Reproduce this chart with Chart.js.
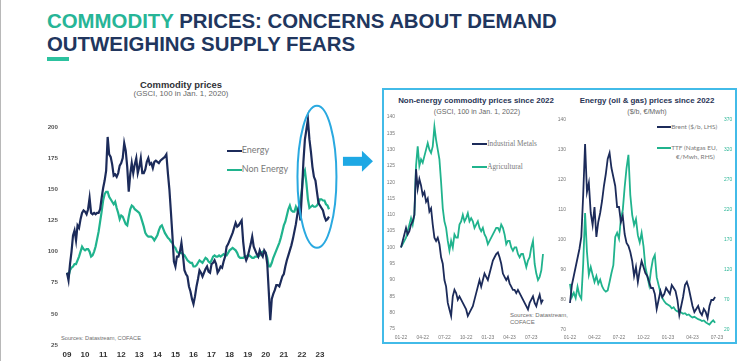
<!DOCTYPE html>
<html lang="en">
<head>
<meta charset="UTF-8">
<title>Commodity prices</title>
<script src="https://cdn.jsdelivr.net/npm/chart.js"></script>
<style>
  body { margin: 0; width: 740px; height: 361px; background: #fff; position: relative; overflow: hidden;
         font-family: "Liberation Sans", Arial, sans-serif; }
  .abs { position: absolute; white-space: nowrap; line-height: 1; }
  canvas { position: absolute; }
  #edge { left: 0; top: 0; width: 1px; height: 361px; background: #b8b8b8; }
  h1 { position: absolute; left: 47px; top: 9.5px; margin: 0; font-size: 20.4px; line-height: 23.4px;
       font-weight: bold; color: #21365e; white-space: nowrap; }
  h1 span { color: #27b597; }
  #bar { left: 47px; top: 57px; width: 22px; height: 4px; background: #2cc29f; }
  .ctitle { text-align: center; font-weight: bold; color: #2f3136; }
  .csub { text-align: center; color: #666; }
  .leg { position: absolute; white-space: nowrap; height: 12px; line-height: 12px; color: #7a7a7a; }
  .leg i { display: inline-block; vertical-align: middle; }
  #frame { left: 382px; top: 88px; width: 355px; height: 256px; box-sizing: border-box; border: 2px solid #42bbe8; }
  .src { color: #6e6e6e; }
</style>
</head>
<body>
<div class="abs" id="edge"></div>
<h1><span>COMMODITY</span> PRICES: CONCERNS ABOUT DEMAND<br>OUTWEIGHING SUPPLY FEARS</h1>
<div class="abs" id="bar"></div>

<div class="abs ctitle" style="left:81px; top:80.4px; width:200px; font-size:9.4px;">Commodity prices</div>
<div class="abs csub" style="left:81px; top:90.1px; width:200px; font-size:7.8px;">(GSCI, 100 in Jan. 1, 2020)</div>
<div class="leg" style="left:226.7px; top:144px; font-family:Lato, sans-serif; font-size:9px;"><i style="width:15px;height:2.4px;background:#1c2b5a;"></i>Energy</div>
<div class="leg" style="left:226.7px; top:163.3px; font-family:Lato, sans-serif; font-size:9px;"><i style="width:15px;height:2.4px;background:#20b38d;"></i>Non Energy</div>
<div class="abs src" style="left:61px; top:336px; font-size:5.7px;">Sources: Datastream, COFACE</div>

<div class="abs" id="frame"></div>
<div class="abs ctitle" style="left:376px; top:97.3px; width:200px; font-size:7.9px; color:#283455;">Non-energy commodity prices since 2022</div>
<div class="abs csub" style="left:377px; top:108.5px; width:200px; font-size:7.1px;">(GSCI, 100 in Jan. 1, 2022)</div>
<div class="abs ctitle" style="left:547px; top:97.3px; width:200px; font-size:7.9px; color:#283455;">Energy (oil &amp; gas) prices since 2022</div>
<div class="abs csub" style="left:547px; top:108.5px; width:200px; font-size:7.1px;">($/b, €/Mwh)</div>

<div class="leg" style="left:471.7px; top:138px; font-family:'Liberation Serif', serif; font-size:7.3px;"><i style="width:15.5px;height:2px;background:#1c2b5a;"></i>Industrial Metals</div>
<div class="leg" style="left:471.7px; top:160.7px; font-family:'Liberation Serif', serif; font-size:7.3px;"><i style="width:15.5px;height:2px;background:#20b38d;"></i>Agricultural</div>
<div class="abs src" style="left:510px; top:312px; font-size:6px;">Sources: Datastream,</div>
<div class="abs src" style="left:510px; top:319.3px; font-size:6px;">COFACE</div>

<div class="leg" style="left:656.7px; top:120.7px; font-family:Lato, sans-serif; font-size:6.5px;"><i style="width:14.5px;height:2px;background:#1c2b5a;"></i>Brent ($/b, LHS)</div>
<div class="leg" style="left:656.7px; top:141.7px; font-family:Lato, sans-serif; font-size:6.5px;"><i style="width:14.5px;height:2px;background:#20b38d;"></i>TTF (Natgas EU,</div>
<div class="leg" style="left:676px; top:150.7px; font-family:Lato, sans-serif; font-size:6.5px;">€/Mwh, RHS)</div>

<canvas id="mainChart" width="340" height="286" style="left:40px; top:75px;"></canvas>
<canvas id="metalsChart" width="172" height="245" style="left:380px; top:100px;"></canvas>
<canvas id="energyChart" width="188" height="245" style="left:552px; top:100px;"></canvas>

<script>
    // Commodity prices, GSCI (100 = Jan 2020), monthly Jan 2009 - Jul 2023
    const yearLabels = ['09','10','11','12','13','14','15','16','17','18','19','20','21','22','23'];
    const energy = [
        83,77,90,100,113,117,109,121,119,126,131,133,
        132,130,134,143,131,130,131,130,131,131,134,143,
        151,157,165,192,178,176,170,161,162,160,163,169,
        171,175,187,181,168,148,162,171,163,170,175,163,
        168,175,163,163,166,172,175,170,171,167,172,173,
        172,171,173,174,175,176,178,163,150,132,113,92,
        88,96,96,100,107,97,85,82,80,72,68,62,
        58,64,72,78,85,83,80,83,86,88,84,83,
        90,91,93,90,83,85,88,87,92,96,104,106,
        109,112,115,119,123,120,121,123,125,108,97,93,
        96,101,106,112,104,101,98,96,101,98,96,101,
        99,90,68,45,62,66,69,73,73,72,76,80,
        82,88,93,97,101,105,110,116,122,130,136,125,
        147,172,190,198,206,190,180,168,160,157,148,139,
        137,135,133,128,125,126,128
    ];
    const nonEnergy = [
        83,80,85,87,88,90,90,93,96,100,104,102,
        101,102,102,100,96,97,100,104,110,116,124,132,
        141,146,148,148,144,142,140,138,140,135,131,126,
        129,128,125,122,121,128,134,137,136,134,133,132,
        131,128,124,120,115,113,112,112,112,111,109,111,
        113,117,120,121,118,115,113,111,110,108,107,104,
        103,100,99,99,99,98,97,95,93,92,91,91,
        88,88,89,91,93,92,91,93,95,94,92,91,
        93,96,97,96,96,97,96,97,98,97,97,99,
        101,102,103,102,101,99,96,95,95,95,96,96,
        97,97,96,95,95,96,96,96,97,99,100,99,
        99,95,88,88,91,95,98,101,104,107,111,116,
        121,124,129,134,137,133,132,132,136,133,135,141,
        150,162,165,155,142,135,136,137,136,136,137,139,
        142,142,141,141,138,137,134
    ];

    // Since 2022, weekly
    const quarterLabels = ['01-22','04-22','07-22','10-22','01-23','04-23','07-23'];
    const industrialMetals = [
        100,102,104,106,104,105,107,108,110,124,118,121,119,116,117,114,115,111,112,107,
        103,102,103,101,97,95,90,88,83,81,79,85,87,86,84,85,84,83,82,81,
        79,80,81,82,84,86,88,90,88,90,92,91,90,92,94,96,97,98,98.5,97,
        95,92,91,90,91,89,88,87,87,86,87,86,85,84,83,82,81,83,84,85,
        83,82,84,85.5,83,84
    ];
    const agricultural = [
        100,101,102,103,105,107,109,107,110,125,131,125,127,126,128,130,132,130,129,131,
        137,133,130,127,120,112,108,106,102,99,102,100,104,103,103,107,108,110,108,109,
        110.5,108,109,108,106,107,108,106,105,106,104,103,101,102,103,104,105,106,106,105,
        107,106,104,101,102,102,100,99,100,100,98,97,98,98,96,94,96,97,100,102,
        95,92,90,91,93,98
    ];
    const brent = [
        79,85,88,91,94,97,101,115,132,116,119,109,105,111,101,106,109,113,118,122,
        127,129,124,121,118,111,111,106,108,102,99,98,96,93,88,91,86,90,93,91,
        89,88,86,84,84,82,77,80,83,81,82,84,83,82,85,84,83,80,75,78,
        81,85,86,84,81,78,76,77,78,76,75,77,76,74,78,80,80,81
    ];
    const ttf = [
        97,75,82,73,92,78,72,130,215,150,112,125,112,100,110,97,104,93,87,84,
        86,100,115,128,175,182,172,205,220,258,290,312,245,212,195,205,178,166,182,160,
        125,110,95,120,138,145,108,95,82,73,68,64,62,60,56,58,53,51,52,49,
        47,48,45,46,43,41,42,40,38,37,35,36,33,31,29,33,36,32
    ];

    const NAVY = '#1c2b5a';
    const GREEN = '#20b38d';
    const idx = arr => arr.map((_, i) => i);

    function lineSet(label, data, color, width, axis) {
        return { label: label, data: data, borderColor: color, borderWidth: width,
                 pointRadius: 0, tension: 0, fill: false, clip: false, yAxisID: axis || 'y' };
    }

    // Ellipse round 2022-23 and arrow to the zoomed panels
    const highlight = {
        id: 'highlight',
        afterDatasetsDraw(chart) {
            const ctx = chart.ctx;
            const cx = chart.scales.x.getPixelForValue(166);
            const cy = chart.scales.y.getPixelForValue(160);
            ctx.save();
            ctx.strokeStyle = '#2aa9e0';
            ctx.lineWidth = 2;
            ctx.beginPath();
            ctx.ellipse(cx, cy, 19.5, 71, 0, 0, Math.PI * 2);
            ctx.stroke();
            const ay = cy - 15.5;
            ctx.fillStyle = '#1ea8e4';
            ctx.fillRect(cx + 26, ay - 4.5, 20, 9);
            ctx.beginPath();
            ctx.moveTo(cx + 45, ay - 10.5);
            ctx.lineTo(cx + 56, ay);
            ctx.lineTo(cx + 45, ay + 10.5);
            ctx.closePath();
            ctx.fill();
            ctx.restore();
        }
    };

    const noGrid = { display: false, drawTicks: false };

    new Chart(document.getElementById('mainChart'), {
        type: 'line',
        data: {
            labels: idx(energy),
            datasets: [
                lineSet('Energy', energy, NAVY, 2.2),
                lineSet('Non Energy', nonEnergy, GREEN, 2.2)
            ]
        },
        options: {
            responsive: false,
            animation: false,
            layout: { padding: { top: 52, right: 51, left: 0, bottom: 0 } },
            plugins: { legend: { display: false }, tooltip: { enabled: false } },
            scales: {
                x: {
                    type: 'linear', min: 0, max: 174,
                    grid: noGrid, border: { display: false },
                    ticks: { stepSize: 12, maxTicksLimit: 20, includeBounds: false, autoSkip: false,
                             maxRotation: 0, padding: 5,
                             color: '#333', font: { family: 'Liberation Sans', size: 8, weight: 'bold' },
                             callback: v => yearLabels[v / 12] ?? '' },
                    afterFit: s => { s.height = 16; }
                },
                y: {
                    min: 25, max: 200,
                    grid: noGrid, border: { display: false },
                    ticks: { stepSize: 25, maxTicksLimit: 20, padding: 9, color: '#555',
                             font: { family: 'Liberation Sans', size: 6.2, weight: 'bold' } },
                    afterFit: s => { s.width = 27; }
                }
            }
        },
        plugins: [highlight]
    });

    const smallTicks = { family: 'Liberation Sans', size: 4.9 };

    new Chart(document.getElementById('metalsChart'), {
        type: 'line',
        data: {
            labels: idx(industrialMetals),
            datasets: [
                lineSet('Industrial Metals', industrialMetals, NAVY, 1.8),
                lineSet('Agricultural', agricultural, GREEN, 1.8)
            ]
        },
        options: {
            responsive: false,
            animation: false,
            layout: { padding: { top: 17, right: 9, left: 0, bottom: 0 } },
            plugins: { legend: { display: false }, tooltip: { enabled: false } },
            scales: {
                x: {
                    type: 'linear', min: 0, max: 85,
                    grid: noGrid, border: { display: false },
                    ticks: { stepSize: 13, maxTicksLimit: 20, includeBounds: false, autoSkip: false,
                             maxRotation: 0, padding: 5.5,
                             color: '#777', font: smallTicks,
                             callback: v => quarterLabels[v / 13] ?? '' },
                    afterFit: s => { s.height = 16; }
                },
                y: {
                    min: 75, max: 140,
                    grid: noGrid, border: { display: false },
                    ticks: { stepSize: 5, maxTicksLimit: 20, padding: 6, color: '#777', font: smallTicks },
                    afterFit: s => { s.width = 21; }
                }
            }
        }
    });

    new Chart(document.getElementById('energyChart'), {
        type: 'line',
        data: {
            labels: idx(brent),
            datasets: [
                lineSet('Brent ($/b, LHS)', brent, NAVY, 1.8, 'y'),
                lineSet('TTF (Natgas EU, €/Mwh, RHS)', ttf, GREEN, 1.8, 'y1')
            ]
        },
        options: {
            responsive: false,
            animation: false,
            layout: { padding: { top: 20, right: 0, left: 0, bottom: 0 } },
            plugins: { legend: { display: false }, tooltip: { enabled: false } },
            scales: {
                x: {
                    type: 'linear', min: 0, max: 78,
                    grid: noGrid, border: { display: false },
                    ticks: { stepSize: 13, maxTicksLimit: 20, autoSkip: false, maxRotation: 0, padding: 5,
                             color: '#777', font: smallTicks,
                             callback: v => quarterLabels[v / 13] ?? '' },
                    afterFit: s => { s.height = 15; }
                },
                y: {
                    position: 'left', min: 70, max: 140,
                    grid: noGrid, border: { display: false },
                    ticks: { stepSize: 10, maxTicksLimit: 20, padding: 4, color: '#777', font: smallTicks },
                    afterFit: s => { s.width = 18; }
                },
                y1: {
                    position: 'right', min: 20, max: 370,
                    grid: noGrid, border: { display: false },
                    ticks: { stepSize: 50, maxTicksLimit: 20, padding: 7, color: '#2bb596', font: smallTicks },
                    afterFit: s => { s.width = 23; }
                }
            }
        }
    });
</script>
</body>
</html>
